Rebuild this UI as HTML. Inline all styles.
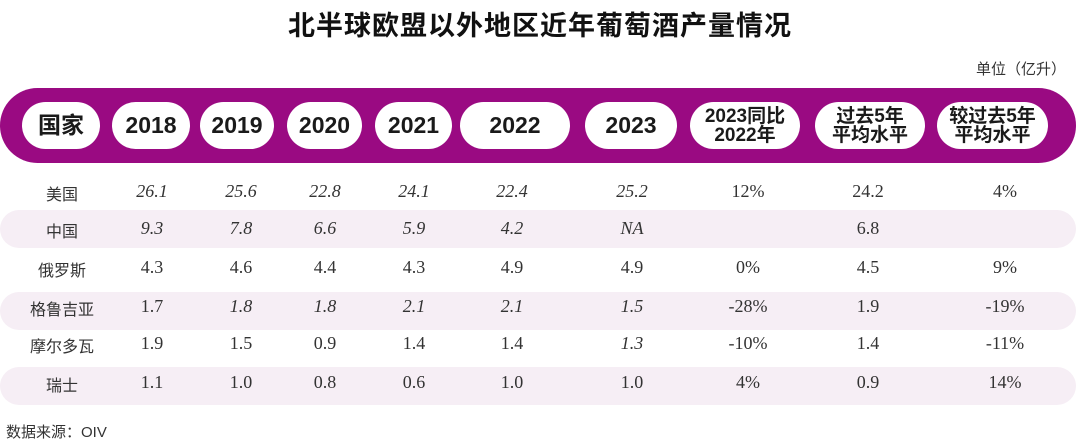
<!DOCTYPE html><html><head><meta charset="utf-8"><style>
body{margin:0;width:1080px;height:443px;background:#fff;position:relative;overflow:hidden;font-family:"Liberation Sans","Noto Sans CJK SC",sans-serif;color:#222}
.a{position:absolute}
.title{left:0;width:1080px;top:4px;text-align:center;font-size:27px;font-weight:bold;color:#111;letter-spacing:1px}
.band{left:0;top:88px;width:1076px;height:75px;background:#9a0a82;border-radius:38px}
.pill{position:absolute;top:102px;height:47px;background:#fff;border-radius:24px;display:flex;align-items:center;justify-content:center;font-weight:bold;font-size:23px;color:#1a1a1a;text-align:center;line-height:19px}
.pill.s{font-size:19px}
.stripe{left:0;width:1076px;height:38px;background:#f6eef5;border-radius:19px}
.c{position:absolute;transform:translateX(-50%);font-family:"Liberation Serif","Noto Serif CJK SC",serif;font-size:18px;color:#333;white-space:nowrap}
.c.n{font-family:"Liberation Sans","Noto Sans CJK SC",sans-serif;font-size:16px}
.i{font-style:italic}
</style></head><body>
<div class="a title">北半球欧盟以外地区近年葡萄酒产量情况</div>
<div class="a" style="right:14px;top:58px;font-size:15px;color:#333">单位（亿升）</div>
<div class="a band"></div>
<div class="pill" style="left:22px;width:78px">国家</div>
<div class="pill" style="left:112px;width:78px">2018</div>
<div class="pill" style="left:200px;width:74px">2019</div>
<div class="pill" style="left:287px;width:75px">2020</div>
<div class="pill" style="left:375px;width:77px">2021</div>
<div class="pill" style="left:460px;width:110px">2022</div>
<div class="pill" style="left:585px;width:92px">2023</div>
<div class="pill s" style="left:690px;width:110px">2023同比<br>2022年</div>
<div class="pill s" style="left:815px;width:110px">过去5年<br>平均水平</div>
<div class="pill s" style="left:937px;width:111px">较过去5年<br>平均水平</div>
<div class="a stripe" style="top:210px"></div>
<div class="a stripe" style="top:292px"></div>
<div class="a stripe" style="top:367px"></div>
<div id="rows"></div>
<div class="a" style="left:6px;top:421px;font-size:15px;color:#333">数据来源：OIV</div>
<script>
var xs=[62,152,241,325,414,512,632,748,868,1005];
var ys=[181,218,257,296,333,372];
var d=[["美国","26.1","25.6","22.8","24.1","22.4","25.2","12%","24.2","4%"],
["中国","9.3","7.8","6.6","5.9","4.2","NA","","6.8",""],
["俄罗斯","4.3","4.6","4.4","4.3","4.9","4.9","0%","4.5","9%"],
["格鲁吉亚","1.7","1.8","1.8","2.1","2.1","1.5","-28%","1.9","-19%"],
["摩尔多瓦","1.9","1.5","0.9","1.4","1.4","1.3","-10%","1.4","-11%"],
["瑞士","1.1","1.0","0.8","0.6","1.0","1.0","4%","0.9","14%"]];
var it=function(r,c){return (r<2&&c>=1&&c<=6)||(r==3&&c>=2&&c<=6)||(r==4&&c==6)};
var h="";
d.forEach(function(row,r){row.forEach(function(v,c){
h+='<div class="c'+(c==0?' n':'')+(it(r,c)?' i':'')+'" style="left:'+xs[c]+'px;top:'+ys[r]+'px">'+v+'</div>';});});
document.getElementById("rows").innerHTML=h;
</script>
</body></html>
